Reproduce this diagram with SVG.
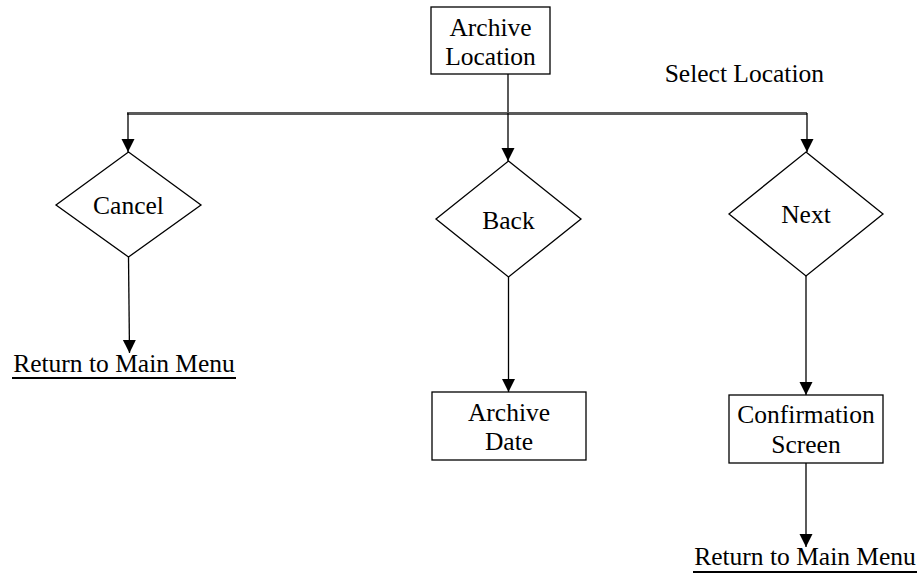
<svg xmlns="http://www.w3.org/2000/svg" width="922" height="588" viewBox="0 0 922 588">
<defs>
<marker id="arr" markerUnits="userSpaceOnUse" markerWidth="14" markerHeight="14" refX="13" refY="6.5" orient="auto">
<path d="M0,0 L13,6.5 L0,13 Z" fill="#000"/>
</marker>
<style>
.box{fill:#fff;stroke:#000;stroke-width:1.3}
.t{font-family:"Liberation Serif","Times New Roman",serif;font-size:25.5px;fill:#000;text-anchor:middle}
.c{stroke:#000;stroke-width:1.3;fill:none}
.bus{stroke:#5a5a5a;stroke-width:3;fill:none}
.u{stroke:#000;stroke-width:2}
</style>
</defs>
<rect width="922" height="588" fill="#fff"/>
<g id="connectors">
<line class="c" x1="508" y1="74" x2="508" y2="113"/>
<line class="bus" x1="127" y1="113.5" x2="807" y2="113.5"/>
<line class="c" x1="128" y1="113" x2="128" y2="152" marker-end="url(#arr)"/>
<line class="c" x1="508" y1="113" x2="508" y2="161" marker-end="url(#arr)"/>
<line class="c" x1="807" y1="113" x2="807" y2="152" marker-end="url(#arr)"/>
<line class="c" x1="128.5" y1="257" x2="129.5" y2="353" marker-end="url(#arr)"/>
<line class="c" x1="508.5" y1="277" x2="508.5" y2="392" marker-end="url(#arr)"/>
<line class="c" x1="806" y1="276" x2="806" y2="395" marker-end="url(#arr)"/>
<line class="c" x1="806" y1="463" x2="806" y2="547" marker-end="url(#arr)"/>
</g>
<g id="archive-location">
<rect class="box" x="431" y="7" width="119" height="67"/>
<text class="t" x="490.5" y="36">Archive</text>
<text class="t" x="490.5" y="65">Location</text>
</g>
<g id="select-location-label">
<text class="t" x="824" y="82" style="text-anchor:end">Select Location</text>
</g>
<g id="cancel">
<polygon class="box" points="128.5,152 201,205 128.5,257 56,205"/>
<text class="t" x="128.5" y="214">Cancel</text>
</g>
<g id="back">
<polygon class="box" points="508.5,161 581,219 508.5,277 436,219"/>
<text class="t" x="508.5" y="229">Back</text>
</g>
<g id="next">
<polygon class="box" points="806,152 883,214 806,276 729,214"/>
<text class="t" x="806" y="223">Next</text>
</g>
<g id="return-main-1">
<text class="t" x="124" y="372">Return to Main Menu</text>
<line class="u" x1="12" y1="378" x2="236" y2="378"/>
</g>
<g id="archive-date">
<rect class="box" x="432" y="392" width="154" height="68"/>
<text class="t" x="509" y="421">Archive</text>
<text class="t" x="509" y="450">Date</text>
</g>
<g id="confirmation-screen">
<rect class="box" x="729" y="395" width="154" height="68"/>
<text class="t" x="806" y="423">Confirmation</text>
<text class="t" x="806" y="453">Screen</text>
</g>
<g id="return-main-2">
<text class="t" x="805" y="565">Return to Main Menu</text>
<line class="u" x1="693" y1="572" x2="917" y2="572"/>
</g>
</svg>
